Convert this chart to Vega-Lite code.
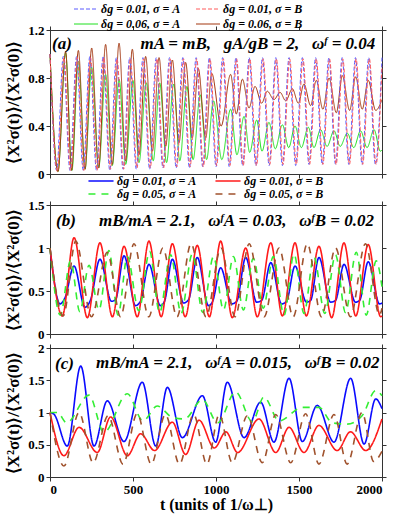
{
"$schema": "https://vega.github.io/schema/vega-lite/v6.json",
"padding": {"left": 4, "top": 0, "right": 4, "bottom": 2},
"config": {
 "font": "Liberation Serif",
 "view": {"stroke": "#333", "strokeWidth": 1},
 "axis": {"grid": false, "labelFont": "Liberation Serif", "labelFontWeight": "bold", "labelFontSize": 13, "labelColor": "#000", "tickColor": "#333", "domainColor": "#333", "tickSize": 4, "labelPadding": 2, "titleFont": "Liberation Serif", "titleFontWeight": "bold", "titleColor": "#000", "titleFontSize": 17, "format": "~g"},
 "legend": {"labelFont": "Liberation Serif", "labelFontWeight": "bold", "labelFontStyle": "italic", "labelFontSize": 12, "labelColor": "#000", "columns": 2, "direction": "horizontal", "title": null, "orient": "none", "padding": 0}
},
"resolve": {"scale": {"color": "independent", "strokeDash": "independent", "strokeWidth": "independent"}, "legend": {"color": "independent", "strokeDash": "independent", "strokeWidth": "independent"}},
"datasets": {
 "a": [
  {"s":"A6","t":0,"v":1.0},{"s":"A6","t":48,"v":0.02},{"s":"A6","t":94,"v":1.01},{"s":"A6","t":132,"v":0.03},{"s":"A6","t":171,"v":0.94},{"s":"A6","t":211,"v":0.04},{"s":"A6","t":251,"v":0.89},{"s":"A6","t":293,"v":0.05},{"s":"A6","t":335,"v":0.83},{"s":"A6","t":375,"v":0.07},{"s":"A6","t":416,"v":0.79},{"s":"A6","t":456,"v":0.08},{"s":"A6","t":500,"v":0.78},{"s":"A6","t":536,"v":0.095},{"s":"A6","t":580,"v":0.76},{"s":"A6","t":622,"v":0.11},{"s":"A6","t":661,"v":0.76},{"s":"A6","t":702,"v":0.095},{"s":"A6","t":745,"v":0.75},{"s":"A6","t":782,"v":0.11},{"s":"A6","t":825,"v":0.73},{"s":"A6","t":862,"v":0.12},{"s":"A6","t":905,"v":0.66},{"s":"A6","t":943,"v":0.12},{"s":"A6","t":985,"v":0.61},{"s":"A6","t":1035,"v":0.12},{"s":"A6","t":1088,"v":0.54},{"s":"A6","t":1126,"v":0.16},{"s":"A6","t":1169,"v":0.48},{"s":"A6","t":1203,"v":0.18},{"s":"A6","t":1245,"v":0.45},{"s":"A6","t":1277,"v":0.19},{"s":"A6","t":1319,"v":0.43},{"s":"A6","t":1357,"v":0.21},{"s":"A6","t":1400,"v":0.41},{"s":"A6","t":1438,"v":0.22},{"s":"A6","t":1476,"v":0.40},{"s":"A6","t":1514,"v":0.22},{"s":"A6","t":1556,"v":0.39},{"s":"A6","t":1590,"v":0.22},{"s":"A6","t":1630,"v":0.37},{"s":"A6","t":1669,"v":0.23},{"s":"A6","t":1711,"v":0.36},{"s":"A6","t":1748,"v":0.23},{"s":"A6","t":1791,"v":0.34},{"s":"A6","t":1830,"v":0.22},{"s":"A6","t":1871,"v":0.36},{"s":"A6","t":1910,"v":0.22},{"s":"A6","t":1952,"v":0.37},{"s":"A6","t":1990,"v":0.19},{"s":"A6","t":2000,"v":0.2},
  {"s":"B6","t":0,"v":1.0},{"s":"B6","t":48,"v":0.02},{"s":"B6","t":94,"v":1.02},{"s":"B6","t":130,"v":0.03},{"s":"B6","t":171,"v":1.03},{"s":"B6","t":211,"v":0.04},{"s":"B6","t":251,"v":1.05},{"s":"B6","t":293,"v":0.05},{"s":"B6","t":335,"v":1.08},{"s":"B6","t":375,"v":0.08},{"s":"B6","t":416,"v":1.09},{"s":"B6","t":456,"v":0.11},{"s":"B6","t":496,"v":1.04},{"s":"B6","t":536,"v":0.16},{"s":"B6","t":576,"v":0.98},{"s":"B6","t":617,"v":0.19},{"s":"B6","t":657,"v":0.97},{"s":"B6","t":697,"v":0.23},{"s":"B6","t":737,"v":0.95},{"s":"B6","t":777,"v":0.26},{"s":"B6","t":817,"v":0.93},{"s":"B6","t":857,"v":0.30},{"s":"B6","t":893,"v":0.88},{"s":"B6","t":938,"v":0.30},{"s":"B6","t":974,"v":0.84},{"s":"B6","t":1031,"v":0.40},{"s":"B6","t":1088,"v":0.83},{"s":"B6","t":1122,"v":0.50},{"s":"B6","t":1159,"v":0.79},{"s":"B6","t":1199,"v":0.55},{"s":"B6","t":1235,"v":0.73},{"s":"B6","t":1275,"v":0.59},{"s":"B6","t":1309,"v":0.69},{"s":"B6","t":1349,"v":0.62},{"s":"B6","t":1386,"v":0.68},{"s":"B6","t":1420,"v":0.61},{"s":"B6","t":1460,"v":0.71},{"s":"B6","t":1496,"v":0.59},{"s":"B6","t":1530,"v":0.75},{"s":"B6","t":1570,"v":0.57},{"s":"B6","t":1604,"v":0.78},{"s":"B6","t":1644,"v":0.54},{"s":"B6","t":1681,"v":0.80},{"s":"B6","t":1725,"v":0.51},{"s":"B6","t":1761,"v":0.82},{"s":"B6","t":1805,"v":0.53},{"s":"B6","t":1841,"v":0.81},{"s":"B6","t":1881,"v":0.54},{"s":"B6","t":1917,"v":0.78},{"s":"B6","t":1962,"v":0.53},{"s":"B6","t":2000,"v":0.62},
  {"s":"A1","t":0,"v":1.0},{"s":"A1","t":40,"v":0.03},{"s":"A1","t":80,"v":0.98},{"s":"A1","t":120,"v":0.03},{"s":"A1","t":160,"v":0.98},{"s":"A1","t":200,"v":0.03},{"s":"A1","t":240,"v":0.98},{"s":"A1","t":280,"v":0.03},{"s":"A1","t":320,"v":0.98},{"s":"A1","t":360,"v":0.03},{"s":"A1","t":400,"v":0.97},{"s":"A1","t":440,"v":0.04},{"s":"A1","t":480,"v":0.97},{"s":"A1","t":520,"v":0.04},{"s":"A1","t":560,"v":0.97},{"s":"A1","t":600,"v":0.04},{"s":"A1","t":640,"v":0.97},{"s":"A1","t":680,"v":0.05},{"s":"A1","t":720,"v":0.97},{"s":"A1","t":760,"v":0.05},{"s":"A1","t":800,"v":0.97},{"s":"A1","t":840,"v":0.05},{"s":"A1","t":880,"v":0.97},{"s":"A1","t":920,"v":0.06},{"s":"A1","t":960,"v":0.97},{"s":"A1","t":1000,"v":0.06},{"s":"A1","t":1040,"v":0.97},{"s":"A1","t":1080,"v":0.06},{"s":"A1","t":1120,"v":0.97},{"s":"A1","t":1160,"v":0.07},{"s":"A1","t":1200,"v":0.97},{"s":"A1","t":1240,"v":0.07},{"s":"A1","t":1280,"v":0.97},{"s":"A1","t":1320,"v":0.07},{"s":"A1","t":1360,"v":0.97},{"s":"A1","t":1400,"v":0.07},{"s":"A1","t":1440,"v":0.97},{"s":"A1","t":1480,"v":0.07},{"s":"A1","t":1520,"v":0.97},{"s":"A1","t":1560,"v":0.08},{"s":"A1","t":1600,"v":0.97},{"s":"A1","t":1640,"v":0.08},{"s":"A1","t":1680,"v":0.97},{"s":"A1","t":1720,"v":0.08},{"s":"A1","t":1760,"v":0.97},{"s":"A1","t":1800,"v":0.08},{"s":"A1","t":1840,"v":0.97},{"s":"A1","t":1880,"v":0.08},{"s":"A1","t":1920,"v":0.97},{"s":"A1","t":1960,"v":0.08},{"s":"A1","t":2000,"v":0.97},
  {"s":"B1","t":0,"v":1.0},{"s":"B1","t":44,"v":0.02},{"s":"B1","t":84,"v":0.97},{"s":"B1","t":124,"v":0.03},{"s":"B1","t":164,"v":0.97},{"s":"B1","t":204,"v":0.03},{"s":"B1","t":244,"v":0.97},{"s":"B1","t":284,"v":0.03},{"s":"B1","t":324,"v":0.97},{"s":"B1","t":364,"v":0.04},{"s":"B1","t":404,"v":0.96},{"s":"B1","t":444,"v":0.04},{"s":"B1","t":484,"v":0.96},{"s":"B1","t":524,"v":0.05},{"s":"B1","t":564,"v":0.96},{"s":"B1","t":604,"v":0.05},{"s":"B1","t":644,"v":0.96},{"s":"B1","t":684,"v":0.05},{"s":"B1","t":724,"v":0.96},{"s":"B1","t":764,"v":0.06},{"s":"B1","t":804,"v":0.96},{"s":"B1","t":844,"v":0.06},{"s":"B1","t":884,"v":0.96},{"s":"B1","t":924,"v":0.06},{"s":"B1","t":964,"v":0.96},{"s":"B1","t":1004,"v":0.07},{"s":"B1","t":1044,"v":0.96},{"s":"B1","t":1084,"v":0.07},{"s":"B1","t":1124,"v":0.96},{"s":"B1","t":1164,"v":0.07},{"s":"B1","t":1204,"v":0.96},{"s":"B1","t":1244,"v":0.07},{"s":"B1","t":1284,"v":0.96},{"s":"B1","t":1324,"v":0.08},{"s":"B1","t":1364,"v":0.96},{"s":"B1","t":1404,"v":0.08},{"s":"B1","t":1444,"v":0.96},{"s":"B1","t":1484,"v":0.08},{"s":"B1","t":1524,"v":0.96},{"s":"B1","t":1564,"v":0.08},{"s":"B1","t":1604,"v":0.96},{"s":"B1","t":1644,"v":0.08},{"s":"B1","t":1684,"v":0.96},{"s":"B1","t":1724,"v":0.08},{"s":"B1","t":1764,"v":0.96},{"s":"B1","t":1804,"v":0.08},{"s":"B1","t":1844,"v":0.96},{"s":"B1","t":1884,"v":0.08},{"s":"B1","t":1924,"v":0.96},{"s":"B1","t":1964,"v":0.08},{"s":"B1","t":2000,"v":0.9}
 ],
 "b": [
  {"s":"A1","t":0,"v":1.0},{"s":"A1","t":60,"v":0.35},{"s":"A1","t":90,"v":0.42},{"s":"A1","t":145,"v":0.79},{"s":"A1","t":210,"v":0.31},{"s":"A1","t":245,"v":0.40},{"s":"A1","t":301,"v":0.87},{"s":"A1","t":370,"v":0.38},{"s":"A1","t":395,"v":0.40},{"s":"A1","t":446,"v":0.91},{"s":"A1","t":515,"v":0.33},{"s":"A1","t":545,"v":0.38},{"s":"A1","t":596,"v":0.81},{"s":"A1","t":665,"v":0.33},{"s":"A1","t":690,"v":0.38},{"s":"A1","t":737,"v":0.87},{"s":"A1","t":805,"v":0.36},{"s":"A1","t":835,"v":0.40},{"s":"A1","t":887,"v":0.89},{"s":"A1","t":955,"v":0.33},{"s":"A1","t":980,"v":0.38},{"s":"A1","t":1028,"v":0.77},{"s":"A1","t":1095,"v":0.35},{"s":"A1","t":1125,"v":0.38},{"s":"A1","t":1179,"v":0.89},{"s":"A1","t":1245,"v":0.37},{"s":"A1","t":1275,"v":0.39},{"s":"A1","t":1330,"v":0.83},{"s":"A1","t":1395,"v":0.35},{"s":"A1","t":1425,"v":0.38},{"s":"A1","t":1476,"v":0.79},{"s":"A1","t":1545,"v":0.37},{"s":"A1","t":1570,"v":0.39},{"s":"A1","t":1620,"v":0.89},{"s":"A1","t":1690,"v":0.37},{"s":"A1","t":1720,"v":0.39},{"s":"A1","t":1771,"v":0.81},{"s":"A1","t":1840,"v":0.37},{"s":"A1","t":1865,"v":0.39},{"s":"A1","t":1917,"v":0.84},{"s":"A1","t":1985,"v":0.35},{"s":"A1","t":2000,"v":0.36},
  {"s":"B1","t":0,"v":1.0},{"s":"B1","t":74,"v":0.21},{"s":"B1","t":145,"v":1.12},{"s":"B1","t":225,"v":0.19},{"s":"B1","t":301,"v":1.06},{"s":"B1","t":376,"v":0.2},{"s":"B1","t":446,"v":1.02},{"s":"B1","t":526,"v":0.2},{"s":"B1","t":596,"v":1.08},{"s":"B1","t":670,"v":0.2},{"s":"B1","t":737,"v":1.05},{"s":"B1","t":815,"v":0.2},{"s":"B1","t":887,"v":1.03},{"s":"B1","t":960,"v":0.2},{"s":"B1","t":1028,"v":1.08},{"s":"B1","t":1098,"v":0.19},{"s":"B1","t":1179,"v":1.0},{"s":"B1","t":1249,"v":0.2},{"s":"B1","t":1330,"v":1.06},{"s":"B1","t":1400,"v":0.21},{"s":"B1","t":1476,"v":1.06},{"s":"B1","t":1544,"v":0.21},{"s":"B1","t":1620,"v":1.02},{"s":"B1","t":1697,"v":0.19},{"s":"B1","t":1771,"v":1.06},{"s":"B1","t":1842,"v":0.21},{"s":"B1","t":1917,"v":1.04},{"s":"B1","t":1992,"v":0.2},{"s":"B1","t":2000,"v":0.21},
  {"s":"A5","t":0,"v":1.0},{"s":"A5","t":62,"v":0.22},{"s":"A5","t":124,"v":0.85},{"s":"A5","t":180,"v":0.26},{"s":"A5","t":235,"v":0.8},{"s":"A5","t":295,"v":0.28},{"s":"A5","t":355,"v":0.97},{"s":"A5","t":410,"v":0.22},{"s":"A5","t":466,"v":0.9},{"s":"A5","t":535,"v":0.27},{"s":"A5","t":600,"v":0.96},{"s":"A5","t":660,"v":0.25},{"s":"A5","t":727,"v":0.92},{"s":"A5","t":790,"v":0.24},{"s":"A5","t":857,"v":0.93},{"s":"A5","t":920,"v":0.25},{"s":"A5","t":985,"v":0.9},{"s":"A5","t":1045,"v":0.28},{"s":"A5","t":1105,"v":0.9},{"s":"A5","t":1165,"v":0.28},{"s":"A5","t":1225,"v":0.88},{"s":"A5","t":1285,"v":0.3},{"s":"A5","t":1345,"v":0.9},{"s":"A5","t":1410,"v":0.22},{"s":"A5","t":1470,"v":0.93},{"s":"A5","t":1530,"v":0.24},{"s":"A5","t":1590,"v":0.9},{"s":"A5","t":1655,"v":0.24},{"s":"A5","t":1720,"v":0.92},{"s":"A5","t":1780,"v":0.25},{"s":"A5","t":1845,"v":0.95},{"s":"A5","t":1905,"v":0.22},{"s":"A5","t":1965,"v":0.85},{"s":"A5","t":2000,"v":0.55},
  {"s":"B5","t":0,"v":1.0},{"s":"B5","t":80,"v":0.21},{"s":"B5","t":155,"v":1.08},{"s":"B5","t":250,"v":0.2},{"s":"B5","t":345,"v":0.95},{"s":"B5","t":425,"v":0.2},{"s":"B5","t":506,"v":1.05},{"s":"B5","t":595,"v":0.2},{"s":"B5","t":680,"v":1.0},{"s":"B5","t":765,"v":0.2},{"s":"B5","t":850,"v":1.05},{"s":"B5","t":940,"v":0.2},{"s":"B5","t":1030,"v":1.0},{"s":"B5","t":1115,"v":0.2},{"s":"B5","t":1200,"v":1.05},{"s":"B5","t":1290,"v":0.2},{"s":"B5","t":1380,"v":1.0},{"s":"B5","t":1465,"v":0.2},{"s":"B5","t":1550,"v":1.05},{"s":"B5","t":1635,"v":0.2},{"s":"B5","t":1720,"v":1.0},{"s":"B5","t":1810,"v":0.2},{"s":"B5","t":1900,"v":1.05},{"s":"B5","t":1985,"v":0.22},{"s":"B5","t":2000,"v":0.3}
 ],
 "c": [
  {"s":"A1","t":0,"v":1.0},{"s":"A1","t":25,"v":0.97},{"s":"A1","t":104,"v":0.48},{"s":"A1","t":185,"v":1.72},{"s":"A1","t":265,"v":0.48},{"s":"A1","t":345,"v":1.18},{"s":"A1","t":446,"v":0.55},{"s":"A1","t":556,"v":1.47},{"s":"A1","t":637,"v":0.48},{"s":"A1","t":707,"v":1.39},{"s":"A1","t":797,"v":0.61},{"s":"A1","t":918,"v":1.26},{"s":"A1","t":998,"v":0.54},{"s":"A1","t":1068,"v":1.47},{"s":"A1","t":1169,"v":0.61},{"s":"A1","t":1269,"v":1.16},{"s":"A1","t":1349,"v":0.54},{"s":"A1","t":1440,"v":1.53},{"s":"A1","t":1520,"v":0.55},{"s":"A1","t":1610,"v":1.11},{"s":"A1","t":1711,"v":0.54},{"s":"A1","t":1811,"v":1.53},{"s":"A1","t":1892,"v":0.51},{"s":"A1","t":1962,"v":1.21},{"s":"A1","t":2000,"v":1.06},
  {"s":"B1","t":0,"v":1.0},{"s":"B1","t":84,"v":0.33},{"s":"B1","t":175,"v":0.77},{"s":"B1","t":285,"v":0.38},{"s":"B1","t":365,"v":0.93},{"s":"B1","t":466,"v":0.33},{"s":"B1","t":546,"v":0.67},{"s":"B1","t":630,"v":0.41},{"s":"B1","t":737,"v":0.85},{"s":"B1","t":817,"v":0.35},{"s":"B1","t":898,"v":0.88},{"s":"B1","t":990,"v":0.45},{"s":"B1","t":1060,"v":0.7},{"s":"B1","t":1130,"v":0.38},{"s":"B1","t":1259,"v":0.9},{"s":"B1","t":1360,"v":0.38},{"s":"B1","t":1440,"v":0.77},{"s":"B1","t":1530,"v":0.38},{"s":"B1","t":1620,"v":0.8},{"s":"B1","t":1730,"v":0.41},{"s":"B1","t":1810,"v":0.7},{"s":"B1","t":1902,"v":0.41},{"s":"B1","t":2000,"v":0.9},
  {"s":"A5","t":0,"v":1.0},{"s":"A5","t":45,"v":1.0},{"s":"A5","t":100,"v":0.84},{"s":"A5","t":235,"v":1.27},{"s":"A5","t":325,"v":0.69},{"s":"A5","t":466,"v":1.29},{"s":"A5","t":560,"v":0.87},{"s":"A5","t":646,"v":1.1},{"s":"A5","t":740,"v":0.92},{"s":"A5","t":810,"v":0.9},{"s":"A5","t":918,"v":1.2},{"s":"A5","t":1010,"v":0.84},{"s":"A5","t":1118,"v":1.32},{"s":"A5","t":1219,"v":0.86},{"s":"A5","t":1289,"v":1.24},{"s":"A5","t":1380,"v":0.87},{"s":"A5","t":1520,"v":1.08},{"s":"A5","t":1620,"v":1.08},{"s":"A5","t":1701,"v":0.84},{"s":"A5","t":1790,"v":0.82},{"s":"A5","t":1880,"v":0.95},{"s":"A5","t":1962,"v":1.34},{"s":"A5","t":2000,"v":1.26},
  {"s":"B5","t":0,"v":1.0},{"s":"B5","t":84,"v":0.17},{"s":"B5","t":175,"v":1.0},{"s":"B5","t":260,"v":0.22},{"s":"B5","t":350,"v":0.95},{"s":"B5","t":440,"v":0.2},{"s":"B5","t":525,"v":0.98},{"s":"B5","t":610,"v":0.2},{"s":"B5","t":695,"v":0.97},{"s":"B5","t":780,"v":0.2},{"s":"B5","t":865,"v":0.97},{"s":"B5","t":945,"v":0.2},{"s":"B5","t":1020,"v":0.97},{"s":"B5","t":1098,"v":0.22},{"s":"B5","t":1189,"v":0.95},{"s":"B5","t":1279,"v":0.22},{"s":"B5","t":1360,"v":0.97},{"s":"B5","t":1450,"v":0.22},{"s":"B5","t":1540,"v":0.98},{"s":"B5","t":1620,"v":0.2},{"s":"B5","t":1711,"v":0.97},{"s":"B5","t":1790,"v":0.2},{"s":"B5","t":1880,"v":1.0},{"s":"B5","t":1950,"v":0.24},{"s":"B5","t":2000,"v":0.4}
 ],
 "ta": [{"x":12,"y":1.08,"txt":"(a)"},{"x":545,"y":1.08,"txt":"mA = mB,\u00a0\u00a0 gA/gB = 2,\u00a0\u00a0 ωᶠ = 0.04"}],
 "tb": [{"x":36,"y":1.31,"txt":"(b)"},{"x":295,"y":1.31,"txt":"mB/mA = 2.1,\u00a0\u00a0 ωᶠA = 0.03,\u00a0\u00a0 ωᶠB = 0.02"}],
 "tc": [{"x":30,"y":1.75,"txt":"(c)"},{"x":277,"y":1.76,"txt":"mB/mA = 2.1,\u00a0\u00a0 ωᶠA = 0.015,\u00a0\u00a0 ωᶠB = 0.02"}]
},
"bounds": "flush",
"spacing": 31,
"vconcat": [
 {
  "width": 332, "height": 144,
  "resolve": {"axis": {"x": "independent", "y": "independent"}},
  "layer": [
   {"data": {"name": "a"}, "mark": {"type": "line", "interpolate": "monotone"},
    "encoding": {
     "x": {"field": "t", "type": "quantitative", "scale": {"domain": [0, 2000], "nice": false}, "axis": {"values": [0,500,1000,1500,2000], "labels": false, "title": null}},
     "y": {"field": "v", "type": "quantitative", "scale": {"domain": [0, 1.2], "nice": false}, "axis": {"values": [0,0.4,0.8,1.2], "title": "⟨X²σ(t)⟩/⟨X²σ(0)⟩", "titlePadding": 5}},
     "color": {"field": "s", "type": "nominal", "scale": {"domain": ["A1","B1","A6","B6"], "range": ["#5a5aff","#ff5a5a","#1ee01e","#a3360f"]},
       "legend": {"legendX": 28, "legendY": -29, "rowPadding": 1, "columnPadding": 13, "symbolType": "M-1.6,0L1.6,0", "symbolSize": 225, "labelOffset": 7, "labelExpr": "{'A1':'δg = 0.01, σ = A','B1':'δg = 0.01, σ = B','A6':'δg = 0.06, σ = A','B6':'δg = 0.06, σ = B'}[datum.label]"}},
     "strokeDash": {"field": "s", "type": "nominal", "scale": {"domain": ["A1","B1","A6","B6"], "range": [[4,2],[4,2],[1,0],[1,0]]}},
     "strokeWidth": {"field": "s", "type": "nominal", "scale": {"domain": ["A1","B1","A6","B6"], "range": [1,1,2.5,2.5]}}
    }},
   {"data": {"name": "ta"}, "mark": {"type": "text", "align": "left", "baseline": "middle", "fontSize": 17, "fontWeight": "bold", "fontStyle": "italic", "font": "Liberation Serif"},
    "encoding": {
     "x": {"field": "x", "type": "quantitative", "scale": {"domain": [0, 2000], "nice": false}, "axis": {"orient": "top", "values": [0,500,1000,1500,2000], "labels": false, "title": null}},
     "y": {"field": "y", "type": "quantitative", "axis": {"orient": "right", "values": [0,0.4,0.8,1.2], "labels": false, "title": null}},
     "text": {"field": "txt"}
    }}
  ]
 },
 {
  "bounds": "flush",
  "spacing": 14,
  "resolve": {"scale": {"color": "independent", "strokeDash": "independent", "strokeWidth": "independent"}, "legend": {"color": "independent", "strokeDash": "independent", "strokeWidth": "independent"}},
  "vconcat": [
   {
    "width": 332, "height": 129,
    "resolve": {"axis": {"x": "independent", "y": "independent"}},
    "layer": [
     {"data": {"name": "b"}, "mark": {"type": "line", "interpolate": "monotone"},
      "encoding": {
       "x": {"field": "t", "type": "quantitative", "scale": {"domain": [0, 2000], "nice": false}, "axis": {"values": [0,500,1000,1500,2000], "labels": false, "title": null}},
       "y": {"field": "v", "type": "quantitative", "scale": {"domain": [0, 1.5], "nice": false}, "axis": {"values": [0,0.5,1,1.5], "title": "⟨X²σ(t)⟩/⟨X²σ(0)⟩", "titlePadding": 5}},
       "color": {"field": "s", "type": "nominal", "scale": {"domain": ["A1","B1","A5","B5"], "range": ["#0a0aff","#ff1a1a","#33ee33","#a0522d"]},
         "legend": {"legendX": 44, "legendY": -31, "rowPadding": 0, "columnPadding": 15, "symbolType": "M-2.2,0L2.2,0", "symbolSize": 130, "labelOffset": 9, "labelExpr": "{'A1':'δg = 0.01, σ = A','B1':'δg = 0.01, σ = B','A5':'δg = 0.05, σ = A','B5':'δg = 0.05, σ = B'}[datum.label]"}},
       "strokeDash": {"field": "s", "type": "nominal", "scale": {"domain": ["A1","B1","A5","B5"], "range": [[1,0],[1,0],[7,6],[7,6]]}},
       "strokeWidth": {"field": "s", "type": "nominal", "scale": {"domain": ["A1","B1","A5","B5"], "range": [1.6,1.6,2.2,2.2]}}
      }},
     {"data": {"name": "tb"}, "mark": {"type": "text", "align": "left", "baseline": "middle", "fontSize": 17, "fontWeight": "bold", "fontStyle": "italic", "font": "Liberation Serif"},
      "encoding": {
       "x": {"field": "x", "type": "quantitative", "scale": {"domain": [0, 2000], "nice": false}, "axis": {"orient": "top", "values": [0,500,1000,1500,2000], "labels": false, "title": null}},
       "y": {"field": "y", "type": "quantitative", "axis": {"orient": "right", "values": [0,0.5,1,1.5], "labels": false, "title": null}},
       "text": {"field": "txt"}
      }}
    ]
   },
   {
    "width": 332, "height": 129,
    "resolve": {"axis": {"x": "independent", "y": "independent"}},
    "layer": [
     {"data": {"name": "c"}, "mark": {"type": "line", "interpolate": "monotone"},
      "encoding": {
       "x": {"field": "t", "type": "quantitative", "scale": {"domain": [0, 2000], "nice": false}, "axis": {"values": [0,500,1000,1500,2000], "format": "d", "title": "t (units of 1/ω⊥)", "titlePadding": 0, "titleFontSize": 16}},
       "y": {"field": "v", "type": "quantitative", "scale": {"domain": [0, 2], "nice": false}, "axis": {"values": [0,0.5,1,1.5,2], "title": "⟨X²σ(t)⟩/⟨X²σ(0)⟩", "titlePadding": 5}},
       "color": {"field": "s", "type": "nominal", "scale": {"domain": ["A1","B1","A5","B5"], "range": ["#0a0aff","#ff1a1a","#33ee33","#a0522d"]}, "legend": null},
       "strokeDash": {"field": "s", "type": "nominal", "scale": {"domain": ["A1","B1","A5","B5"], "range": [[1,0],[1,0],[7,6],[7,6]]}, "legend": null},
       "strokeWidth": {"field": "s", "type": "nominal", "scale": {"domain": ["A1","B1","A5","B5"], "range": [1.6,1.6,2.2,2.2]}, "legend": null}
      }},
     {"data": {"name": "tc"}, "mark": {"type": "text", "align": "left", "baseline": "middle", "fontSize": 17, "fontWeight": "bold", "fontStyle": "italic", "font": "Liberation Serif"},
      "encoding": {
       "x": {"field": "x", "type": "quantitative", "scale": {"domain": [0, 2000], "nice": false}, "axis": {"orient": "top", "values": [0,500,1000,1500,2000], "labels": false, "title": null}},
       "y": {"field": "y", "type": "quantitative", "axis": {"orient": "right", "values": [0,0.5,1,1.5,2], "labels": false, "title": null}},
       "text": {"field": "txt"}
      }}
    ]
   }
  ]
 }
]
}
